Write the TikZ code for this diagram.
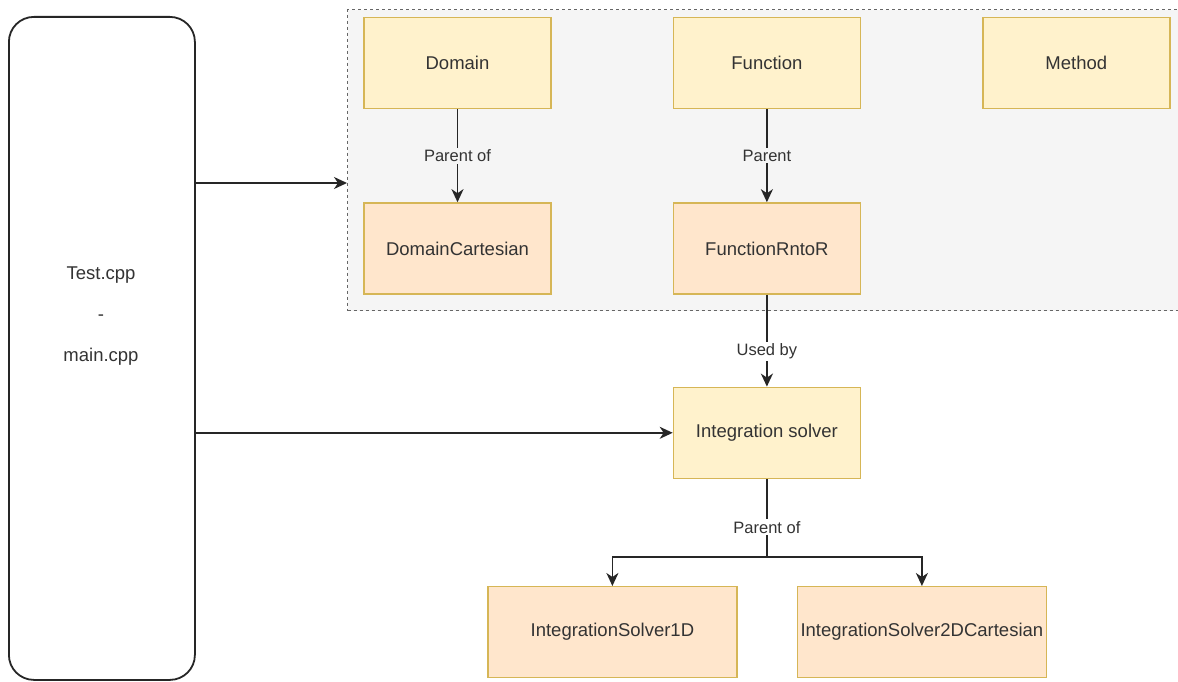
\documentclass[tikz,border=0pt]{standalone}
\usepackage{fontspec}
\setmainfont{Liberation Sans}
\usetikzlibrary{positioning,arrows.meta}

\definecolor{yelfill}{HTML}{FFF2CC}
\definecolor{yelline}{HTML}{D6B656}
\definecolor{orafill}{HTML}{FFE6CC}
\definecolor{grpfill}{HTML}{F5F5F5}
\definecolor{grpline}{HTML}{666666}
\definecolor{txt}{HTML}{333333}

\tikzset{
	base/.style={draw=yelline,line width=1.4pt,minimum width=187pt,minimum height=91pt,
		text=txt,font=\fontsize{18.5}{22}\selectfont,inner sep=0pt},
	parentbox/.style={base,fill=yelfill},
	childbox/.style={base,fill=orafill},
	widebox/.style={childbox,minimum width=249pt},
	arr/.style={-{Stealth[length=13pt,width=12pt,inset=4pt]},line width=1.8pt,draw=black!85},
	lbl/.style={font=\fontsize{16.5}{20}\selectfont,text=txt,inner sep=2pt}
}

\begin{document}
\begin{tikzpicture}[x=1pt,y=-1pt]
	\useasboundingbox[fill=white] (0,0) rectangle (1178,682);
	% container
	\node[draw=grpline,dashed,fill=grpfill,line width=1.2pt,minimum width=870pt,minimum height=301pt,
		anchor=north west,inner sep=0pt](modules) at (347,9){};
	\node[draw=black!85,line width=1.8pt,rounded corners=25pt,minimum width=186pt,minimum height=663pt,
		anchor=north west,inner sep=0pt](testbox) at (8,16){};
	\node[text=txt,font=\fontsize{18.5}{22}\selectfont,align=center](testtxt) at (101,316)
		{Test.cpp\\[19pt]-\\[19pt]main.cpp};
	\node[parentbox](domain) at (457.5,63){Domain};
	\node[parentbox](function)[right = 121pt of domain]{Function};
	\node[parentbox](method)[right = 121pt of function]{Method};
	\node[childbox](domaincart)[below = 93pt of domain]{DomainCartesian};
	\node[childbox](rntor)[below = 93pt of function]{FunctionRntoR};
	\node[parentbox](solver)[below = 92pt of rntor]{Integration solver};
	\node[widebox](solver1d)[below = 107pt of solver,xshift=-154.5pt]{IntegrationSolver1D};
	\node[widebox](solver2d)[below = 107pt of solver,xshift=155pt]{IntegrationSolver2DCartesian};
	\draw[arr](domain) -- node[lbl,fill=grpfill]{Parent of} (domaincart);
	\draw[arr](function) -- node[lbl,fill=grpfill]{Parent} (rntor);
	\draw[arr](rntor) -- node[lbl,fill=white,pos=0.62]{Used by} (solver);
	\draw[arr](solver.south) -- node[lbl,fill=white,pos=0.62]{Parent of} ++(0,78) -| (solver1d.north);
	\draw[arr](solver.south) ++(0,78) -| (solver2d.north);
	\draw[arr](testbox.east |- 0,183) -- (modules.west |- 0,183);
	\draw[arr](testbox.east |- solver.west) -- (solver.west);
\end{tikzpicture}
\end{document}
